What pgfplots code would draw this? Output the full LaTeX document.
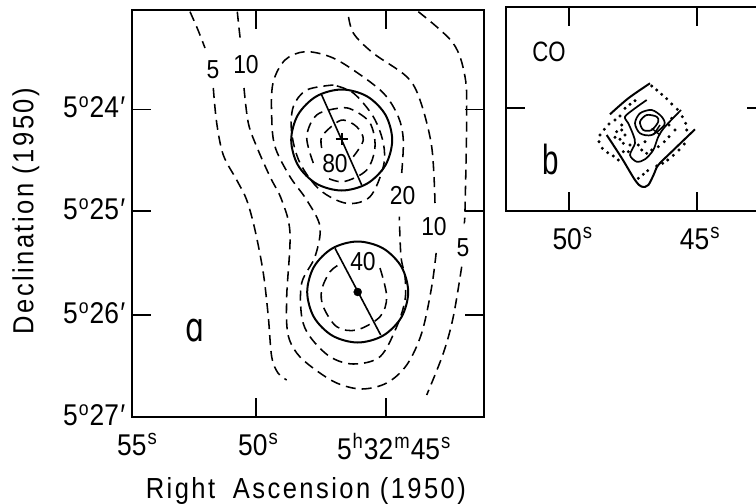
\documentclass[border=0pt]{standalone}
\usepackage{fontspec}
\setmainfont[FakeStretch=0.88]{Liberation Sans}
\newfontfamily\spaced[LetterSpace=8.5,FakeStretch=0.88]{Liberation Sans}
\newfontfamily\dejavu{DejaVu Sans}
\usepackage{pgfplots}
\pgfplotsset{compat=1.18}
\newcommand\up[1]{\hspace{1pt}\raisebox{10.5pt}{\fontsize{21}{21}\selectfont #1}\hspace{1pt}}
\newcommand\dm[1]{5\hspace{1pt}\raisebox{10pt}{\fontsize{20}{20}\selectfont o}\hspace{1pt}#1\hspace{1.5pt}′}
\tikzset{lab/.style={font=\fontsize{26}{26}\selectfont,inner sep=0pt}}
\pgfplotsset{
  frameax/.style={
    scale only axis, y dir=reverse, axis line style={line width=2pt},
    tick style={black,line width=1.8pt}, major tick length=19pt,
    tick label style={font=\fontsize{30}{30}\selectfont},
    xticklabel shift=13pt,
    yticklabel style={yshift=2pt},
    yticklabel shift=3pt,
    clip=false,
  },
  dash/.style={black,line width=1.55pt,smooth,tension=0.55,no markers,dash pattern=on 10pt off 6pt},
  solid line/.style={black,line width=2pt,smooth,tension=0.55,no markers},
  thin solid/.style={black,line width=1.7pt,smooth,tension=0.5,no markers},
  dots/.style={black,only marks,mark=*,mark size=1.3pt},
}
\begin{document}
\begin{tikzpicture}[x=1pt,y=1pt]
\path[use as bounding box] (0,0) rectangle (756,504);
\begin{axis}[frameax,
  at={(132pt,87pt)},anchor=south west,width=352pt,height=407.5pt,
  xmin=132,xmax=484,ymin=9.5,ymax=417,
  xtick={132,256,385.7},
  xticklabels={\hspace*{10pt}55\up{s},\hspace*{4pt}50\up{s},\hspace*{16pt}5\up{h}32\up{m}45\up{s}},
  ytick={109.5,210.7,315,417},
  yticklabels={\dm{24},\dm{25},\dm{26},\dm{27}},
  xlabel={\spaced\fontsize{29}{29}\selectfont Right\hspace{8pt} Ascension (1950)},
  xlabel style={at={(axis description cs:0.494,-0.199)},anchor=base,inner sep=0pt},
  ylabel={\spaced\fontsize{29}{29}\selectfont Declination (1950)},
  ylabel style={at={(axis description cs:-0.28,0.505)},anchor=base,inner sep=0pt},
]
% contour 5, left
\addplot[dash] coordinates {(190,11.7)(198,30)(205,48)};
\addplot[dash] coordinates {(213.3,88)(216.7,123)(223.3,155)(236.7,180)(246.7,200)(255,230)(263.3,273)(268.3,316.7)(271.7,356.7)(278,373)(286.7,380)};
% contour 5, right
\addplot[dash] coordinates {(418.3,11.7)(453,43)(465,76.7)(466.7,116.7)(465,210)(464.3,221.7)};
\addplot[dash] coordinates {(461.7,266.7)(453.3,316.7)(443.3,353.3)(426.7,395)};
% contour 10
\addplot[dash] coordinates {(237.3,11.7)(239,28)(240.7,43)};
\addplot[dash] coordinates {(244,88)(248.3,123)(256.7,146.7)(270,176.7)(281.7,200)(290,233)(286.7,296.7)(287.7,333)(296.7,353)(313,368)(336.7,383)(361.7,389)(386.7,383)(406.7,365)(421.7,333)(431.7,286.7)(436.7,248)};
\addplot[dash] coordinates {(435,203)(431.7,146.7)(420,100)(406.7,76.7)(373,53)(353.3,33)(348,13)};
% contour 20
\addplot[dash] coordinates {(401.7,173)(403.3,140)(398.3,116.7)(383.3,93)(353.3,70)(330,56.7)(305,51.7)(285,60)(273,83)(271.7,116.7)(275,146.7)(290,176.7)(306.7,200)(320,226.7)(315,256.7)(301.7,283)(301.7,316.7)(310,336.7)(330,356.7)(353.3,364)(380,356.7)(396.7,326.7)(405,300)(405,276.7)(401,256.7)(399.3,216.7)};
% contour 40, upper and lower
\addplot[dash] coordinates {(333.3,85)(306.7,90)(293.3,106.7)(291.7,133)(300,163)(320,190)(346.7,203.3)(370,196.7)(383.3,166.7)(383.3,143)(373.3,116.7)(353.3,93)(333.3,85)};
\addplot[dash] coordinates {(380,268)(386.7,296.7)(380,316.7)(356.7,330)(336.7,326.7)(323.3,306.7)(321.7,290)(330,271.7)(341.7,263)};
% contour 60
\addplot[dash] coordinates {(313.3,163)(306.7,136.7)(316.7,115)(340,108)(353,110)(370,123)(375,146.7)(366.7,170)(343.3,181.7)(325,177)};
% contour 80
\addplot[dash] coordinates {(321.7,148)(321.7,136.7)(333.3,125)(343.3,120)(356.7,126.7)(363.3,140)(353.3,156.7)};
% beam circles
\addplot[solid line,smooth cycle] coordinates {(392.2,140)(385.4,165.25)(366.95,183.7)(341.7,190.5)(316.45,183.7)(298,165.25)(291.2,140)(298,114.75)(316.45,96.3)(341.7,89.5)(366.95,96.3)(385.4,114.75)};
\addplot[solid line,smooth cycle] coordinates {(408.2,292)(401.4,317.25)(382.95,335.7)(357.7,342.5)(332.45,335.7)(314,317.25)(307.2,292)(314,266.75)(332.45,248.3)(357.7,241.5)(382.95,248.3)(401.4,266.75)};
\addplot[black,line width=1.6pt,no markers] coordinates {(321.7,95)(361.7,185)};
\addplot[black,line width=1.6pt,no markers] coordinates {(335,248.3)(380.7,335)};
\addplot[black,only marks,mark=+,mark size=6pt,mark options={line width=1.7pt}] coordinates {(341.7,139)};
\addplot[black,only marks,mark=*,mark size=4pt] coordinates {(357.7,292)};
\node[lab] at (axis cs:213,70) {5};
\node[lab] at (axis cs:246,65) {10};
\node[lab] at (axis cs:335,164) {80};
\node[lab] at (axis cs:402.7,196) {20};
\node[lab] at (axis cs:434,227) {10};
\node[lab] at (axis cs:463,248) {5};
\node[lab] at (axis cs:363,262) {40};
\node[inner sep=0pt,font=\dejavu\fontsize{40}{40}\selectfont] at (axis cs:195,331) {\scalebox{0.75}[1]{ɑ}};
\end{axis}
\begin{axis}[frameax,
  at={(506pt,293.3pt)},anchor=south west,width=260pt,height=203.4pt,
  xmin=506,xmax=766,ymin=7.3,ymax=210.7,
  xtick={569.3,696.7},
  xticklabels={\hspace*{6pt}50\up{s},\hspace*{6pt}45\up{s}},
  ytick={108},yticklabels={},
]
\addplot[solid line] coordinates {(610,114.3)(628.3,98.3)(650,83.3)};
\addplot[solid line] coordinates {(606.7,135)(621.7,158)(635,180)(641.7,186.7)(648.3,185)(654.3,173.3)(658.3,165)(671.7,151.7)(695,129.3)};
\addplot[thin solid] coordinates {(646.7,100)(635,108.3)(625,116.7)(628.3,123.3)(633.3,135)(635,143.3)(630,155)(636.7,161.7)(645,159.3)(653.3,150)(658.3,136.7)(665,126.7)(681,110)};
\addplot[thin solid,smooth cycle] coordinates {(635,123.3)(640,113.3)(651.7,110)(661.7,116.7)(664.3,125)(651.7,135)(640,133.3)};
\addplot[thin solid,smooth cycle] coordinates {(640,121.7)(646.7,115)(656.7,116.7)(658.3,121.7)(651.7,130)(643.3,130)};
\addplot[black,line width=1.4pt,no markers] coordinates {(651.7,128.3)(660,135)};
\addplot[black,line width=1.4pt,no markers] coordinates {(660,125)(653.3,135)};
\addplot[dots] coordinates {(651.7,86)(656.7,90)(661.7,94.3)(666.7,98.7)(671.7,104)(677.3,109.3)(682.3,116.7)(685.7,123.3)(686.7,130)
(684.3,144)(679,150)(673.3,155.3)(667.7,160)(662.7,163.3)(656.7,166)(647.7,170.7)(643.3,174.3)(638.3,178.3)
(635,100.7)(630,104.3)(625,108.3)(620,116)(615,120)(609,124)(604.3,129.3)(600,135)(599,141.7)(602.3,148.3)(607.7,152.7)(613.3,156)(618.3,160)
(671.7,118.3)(669,125)(675,130)(669,136.7)(664.3,141.7)(658.3,146.7)(651.7,150)(645,141.7)(646.7,153.3)(638.3,145)(641.7,150)
(621.7,125)(616.7,131.7)(621.7,130)(615,137.3)(620,139.3)(625,135)(623.3,143.3)(630,145)(628.3,151.7)(623.3,151.7)};
\node[font=\fontsize{28}{28}\selectfont,inner sep=0pt] at (axis cs:549,52) {\scalebox{0.9}[1]{CO}};
\node[font=\fontsize{42}{42}\selectfont,inner sep=0pt] at (axis cs:551,159) {\scalebox{0.8}[1]{b}};
\end{axis}
\end{tikzpicture}
\end{document}
